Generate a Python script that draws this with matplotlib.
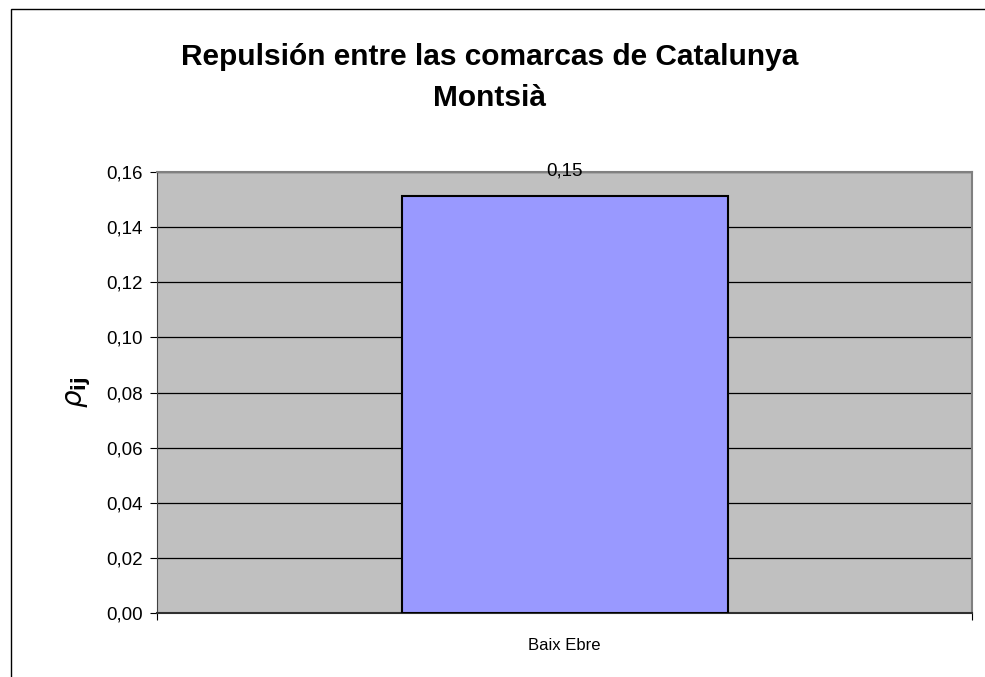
import matplotlib.pyplot as plt
from matplotlib.patches import Rectangle
from matplotlib.ticker import FixedLocator, FuncFormatter

categories = ["Baix Ebre"]
values = [0.1514]
value_labels = ["0,15"]
y_ticks = [0.00, 0.02, 0.04, 0.06, 0.08, 0.10, 0.12, 0.14, 0.16]

plt.rcParams["font.family"] = ["Liberation Sans", "DejaVu Sans"]

fig = plt.figure(figsize=(9.85, 6.77), dpi=100)
# marco exterior del gráfico
fig.patches.append(Rectangle((11 / 985, -0.1), 1.2, 1 - 9 / 677 + 0.1,
                             transform=fig.transFigure, fill=False,
                             edgecolor="black", linewidth=1.0))

ax = fig.add_axes([157 / 985, 64 / 677, 815 / 985, 441 / 677])
ax.set_facecolor("#c0c0c0")

x = list(range(len(categories)))
bars = ax.bar(x, values, width=0.4, color="#9999ff", edgecolor="black",
              linewidth=1.5, zorder=3)
for b, lab in zip(bars, value_labels):
    ax.text(b.get_x() + b.get_width() / 2, 0.1603, lab, ha="center",
            va="center", fontsize=13.5, zorder=4, clip_on=False)

ax.set_xlim(-0.5, len(categories) - 0.5)
ax.set_ylim(0, 0.16)
ax.set_yticks(y_ticks)
ax.yaxis.set_major_formatter(FuncFormatter(lambda v, p: f"{v:.2f}".replace(".", ",")))
ax.grid(axis="y", color="black", linewidth=0.9, zorder=1)

# marcas del eje x en los bordes de la categoría, etiqueta en el centro
ax.xaxis.set_major_locator(FixedLocator([i - 0.5 for i in range(len(categories) + 1)]))
ax.xaxis.set_major_formatter(FuncFormatter(lambda v, p: ""))
ax.xaxis.set_minor_locator(FixedLocator(x))
ax.set_xticklabels(categories, minor=True)
ax.tick_params(axis="x", which="minor", length=0, pad=18, labelsize=12)
ax.tick_params(axis="x", which="major", length=5, direction="out")
ax.tick_params(axis="y", length=5, direction="out", labelsize=13.5, pad=5)

for side in ("top", "right"):
    ax.spines[side].set_color("#808080")
    ax.spines[side].set_linewidth(1.5)
ax.spines["left"].set_color("#404040")
ax.spines["bottom"].set_color("#303030")
ax.spines["bottom"].set_linewidth(1.5)

ax.set_ylabel(r"$\rho_{\mathbf{ij}}$", fontsize=20, labelpad=10)

fig.text(0.497, 1 - 57 / 677, "Repulsión entre las comarcas de Catalunya",
         ha="center", va="center", fontsize=21.5, fontweight="bold")
fig.text(0.497, 1 - 98 / 677, "Montsià",
         ha="center", va="center", fontsize=21.5, fontweight="bold")

fig.savefig("out.png", dpi=100)
